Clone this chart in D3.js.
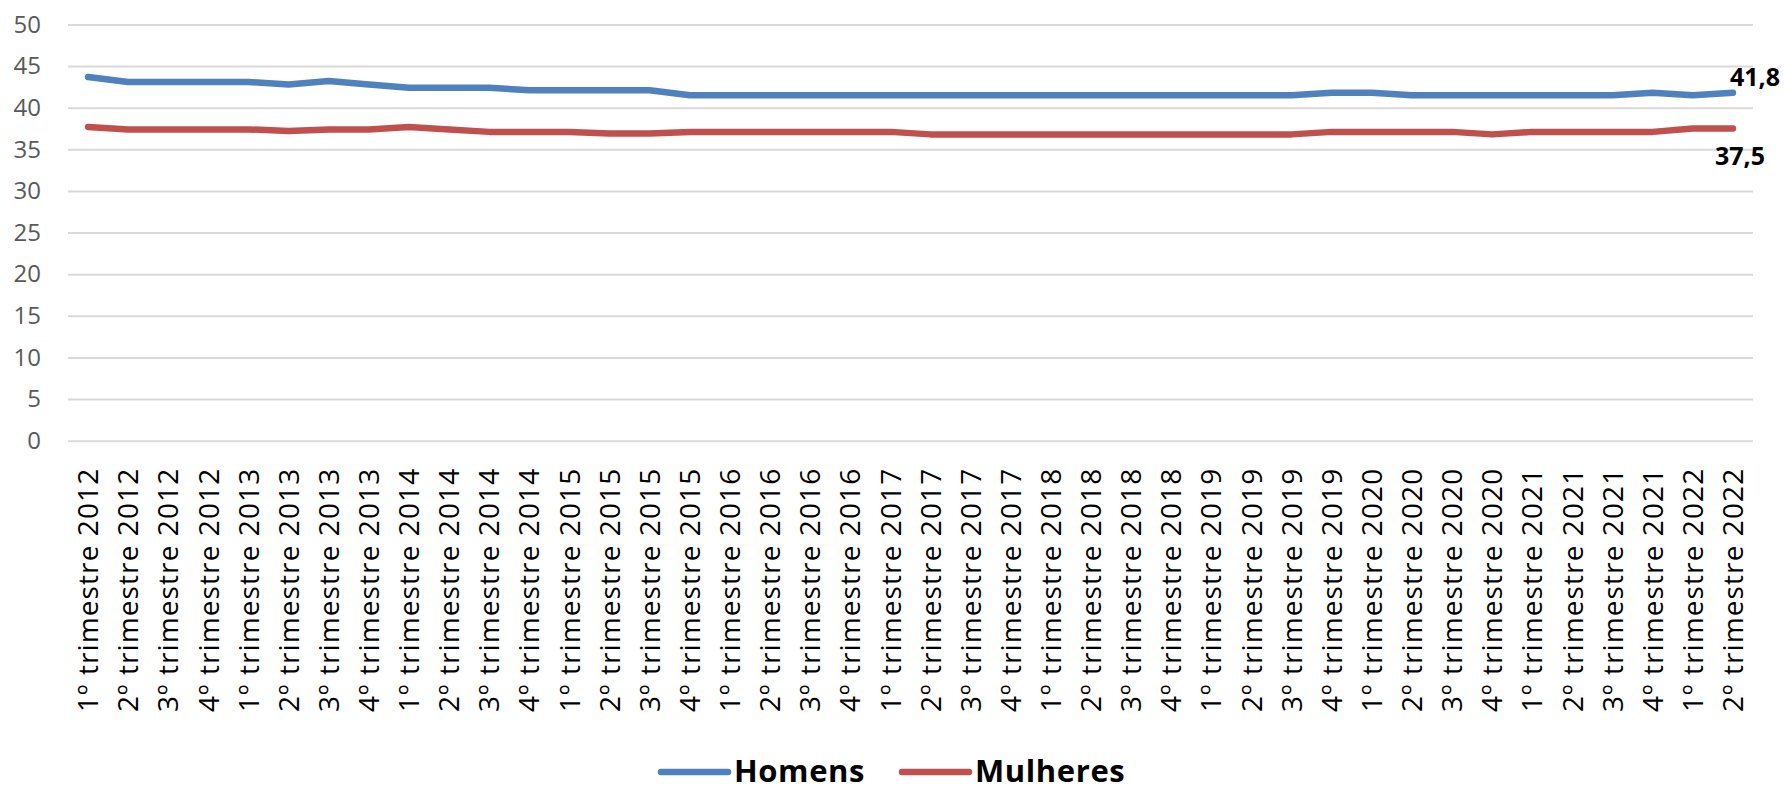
<!DOCTYPE html>
<html>
<head>
<meta charset="utf-8">
<script src="https://cdn.jsdelivr.net/npm/d3@7"></script>
<style>
  body { margin: 0; background: #fff; }
  svg { display: block; }
</style>
</head>
<body>
<svg id="chart" width="1785" height="791"></svg>
<script>
var categories = [
    '1º trimestre 2012', '2º trimestre 2012', '3º trimestre 2012', '4º trimestre 2012',
    '1º trimestre 2013', '2º trimestre 2013', '3º trimestre 2013', '4º trimestre 2013',
    '1º trimestre 2014', '2º trimestre 2014', '3º trimestre 2014', '4º trimestre 2014',
    '1º trimestre 2015', '2º trimestre 2015', '3º trimestre 2015', '4º trimestre 2015',
    '1º trimestre 2016', '2º trimestre 2016', '3º trimestre 2016', '4º trimestre 2016',
    '1º trimestre 2017', '2º trimestre 2017', '3º trimestre 2017', '4º trimestre 2017',
    '1º trimestre 2018', '2º trimestre 2018', '3º trimestre 2018', '4º trimestre 2018',
    '1º trimestre 2019', '2º trimestre 2019', '3º trimestre 2019', '4º trimestre 2019',
    '1º trimestre 2020', '2º trimestre 2020', '3º trimestre 2020', '4º trimestre 2020',
    '1º trimestre 2021', '2º trimestre 2021', '3º trimestre 2021', '4º trimestre 2021',
    '1º trimestre 2022', '2º trimestre 2022'
];

var homens = [
    43.7, 43.1, 43.1, 43.1, 43.1, 42.8, 43.2, 42.8,
    42.4, 42.4, 42.4, 42.1, 42.1, 42.1, 42.1, 41.5,
    41.5, 41.5, 41.5, 41.5, 41.5, 41.5, 41.5, 41.5,
    41.5, 41.5, 41.5, 41.5, 41.5, 41.5, 41.5, 41.8,
    41.8, 41.5, 41.5, 41.5, 41.5, 41.5, 41.5, 41.8,
    41.5, 41.8
];

var mulheres = [
    37.7, 37.4, 37.4, 37.4, 37.4, 37.2, 37.4, 37.4,
    37.7, 37.4, 37.1, 37.1, 37.1, 36.9, 36.9, 37.1,
    37.1, 37.1, 37.1, 37.1, 37.1, 36.8, 36.8, 36.8,
    36.8, 36.8, 36.8, 36.8, 36.8, 36.8, 36.8, 37.1,
    37.1, 37.1, 37.1, 36.8, 37.1, 37.1, 37.1, 37.1,
    37.5, 37.5
];

var yTicks = [0, 5, 10, 15, 20, 25, 30, 35, 40, 45, 50];

var seriesNames = ['Homens', 'Mulheres'];
var seriesColors = ['#4f81bd', '#c0504d'];

var plot = { left: 68, right: 1753, top: 24.5, bottom: 440.7 };

var svg = d3.select('#chart');

var x = d3.scaleBand()
    .domain(categories)
    .range([plot.left, plot.right]);

var y = d3.scaleLinear()
    .domain([0, 50])
    .range([plot.bottom, plot.top]);

function cx(d, i) { return x(categories[i]) + x.bandwidth() / 2; }

// gridlines + y labels
var yAxis = svg.append('g')
    .attr('transform', 'translate(' + plot.left + ',0)')
    .call(d3.axisLeft(y)
        .tickValues(yTicks)
        .tickSize(-(plot.right - plot.left))
        .tickPadding(27));
yAxis.select('.domain').remove();
yAxis.selectAll('line')
    .attr('stroke', '#d9d9d9')
    .attr('stroke-width', 2);
yAxis.selectAll('text')
    .attr('fill', '#595959')
    .style('font-family', '"Open Sans", sans-serif')
    .style('font-size', '24px');

// category labels, rotated
var xAxis = svg.append('g')
    .attr('transform', 'translate(0,' + plot.bottom + ')')
    .call(d3.axisBottom(x).tickSize(0).tickPadding(0));
xAxis.select('.domain').remove();
xAxis.selectAll('text')
    .attr('fill', '#000')
    .attr('text-anchor', 'end')
    .attr('x', -27)
    .attr('y', 0)
    .attr('dy', '0.36em')
    .attr('transform', 'rotate(-90)')
    .style('font-family', '"Open Sans", sans-serif')
    .style('font-size', '28px')
    .style('letter-spacing', '1.1px');

// lines
var line = d3.line()
    .x(cx)
    .y(function(d) { return y(d); });

[homens, mulheres].forEach(function(values, k) {
    svg.append('path')
        .datum(values)
        .attr('fill', 'none')
        .attr('stroke', seriesColors[k])
        .attr('stroke-width', 6.5)
        .attr('stroke-linejoin', 'round')
        .attr('stroke-linecap', 'round')
        .attr('d', line);
});

// end labels
var last = categories.length - 1;
svg.append('text')
    .attr('x', cx(null, last) + 22)
    .attr('y', y(homens[last]) - 7)
    .attr('text-anchor', 'middle')
    .style('font-family', '"Open Sans", sans-serif')
    .style('font-weight', 'bold')
    .style('font-size', '25px')
    .text(d3.format('.1f')(homens[last]).replace('.', ','));

svg.append('text')
    .attr('x', cx(null, last) + 7)
    .attr('y', y(mulheres[last]) + 36)
    .attr('text-anchor', 'middle')
    .style('font-family', '"Open Sans", sans-serif')
    .style('font-weight', 'bold')
    .style('font-size', '25px')
    .text(d3.format('.1f')(mulheres[last]).replace('.', ','));

// legend
var legendX = [661, 902];
var legend = svg.append('g').selectAll('g')
    .data(seriesNames).enter()
    .append('g')
    .attr('transform', function(d, i) { return 'translate(' + legendX[i] + ',772)'; });
legend.append('line')
    .attr('x1', 0).attr('x2', 67)
    .attr('y1', 0).attr('y2', 0)
    .attr('stroke', function(d, i) { return seriesColors[i]; })
    .attr('stroke-width', 6.5)
    .attr('stroke-linecap', 'round');
legend.append('text')
    .attr('x', 73)
    .attr('y', 10)
    .style('font-family', '"Open Sans", sans-serif')
    .style('font-weight', 'bold')
    .style('font-size', '31px')
    .style('letter-spacing', '0.6px')
    .text(function(d) { return d; });
</script>
</body>
</html>
